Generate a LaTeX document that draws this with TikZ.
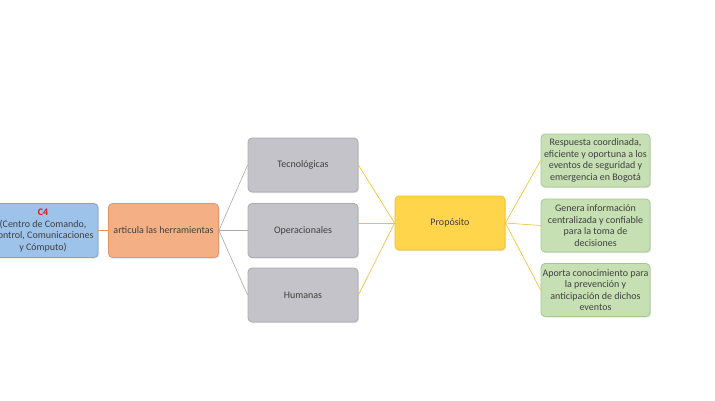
\documentclass[tikz,border=0pt]{standalone}
\usepackage{fontspec}
\setmainfont{Carlito}
\usepackage{tikz}
\usetikzlibrary{shadows}
\definecolor{bluefill}{RGB}{157,195,235}
\definecolor{blueline}{RGB}{120,165,215}
\definecolor{orangefill}{RGB}{244,176,132}
\definecolor{orangeline}{RGB}{225,150,105}
\definecolor{grayfill}{RGB}{196,195,202}
\definecolor{grayline}{RGB}{170,170,178}
\definecolor{yellowfill}{RGB}{255,214,75}
\definecolor{yellowline}{RGB}{240,192,40}
\definecolor{greenfill}{RGB}{198,224,180}
\definecolor{greenline}{RGB}{165,200,145}
\definecolor{textgray}{RGB}{64,64,64}
\definecolor{ctitle}{RGB}{230,20,20}
\newcommand{\boxfont}{\fontsize{10}{11.5}\selectfont}
\tikzset{
	box/.style 2 args={rectangle,rounded corners=4pt,draw=#2,fill=#1,line width=0.8pt,
		minimum width=110pt,minimum height=54pt,align=center,
		inner sep=1pt,text=textgray,font=\boxfont,
		drop shadow={opacity=0.2,shadow xshift=1pt,shadow yshift=-1.2pt}},
	link/.style={draw=#1,line width=0.6pt}
}
\begin{document}
\begin{tikzpicture}[x=1pt,y=-1pt]
\useasboundingbox[fill=white] (0,0) rectangle (715,400);
\node [box={bluefill}{blueline}] (c4) at (43,230.5) {{\color{ctitle}\bfseries C4}\\(Centro de Comando,\\Control, Comunicaciones\\y Cómputo)};
\node [box={orangefill}{orangeline}] (art) at (163.5,230.5) {articula las herramientas};
\node [box={grayfill}{grayline}] (tec) at (303,165) {Tecnológicas};
\node [box={grayfill}{grayline}] (ope) at (303,230.5) {Operacionales};
\node [box={grayfill}{grayline}] (hum) at (303,295) {Humanas};
\node [box={yellowfill}{yellowline}] (prop) at (450,223) {Propósito};
\node [box={greenfill}{greenline},minimum width=109pt,minimum height=53pt] (res) at (595.5,160.5) {Respuesta coordinada,\\eficiente y oportuna a los\\eventos de seguridad y\\emergencia en Bogotá};
\node [box={greenfill}{greenline},minimum width=109pt,minimum height=53pt] (gen) at (595.5,225.5) {Genera información\\centralizada y confiable\\para la toma de\\decisiones};
\node [box={greenfill}{greenline},minimum width=109pt,minimum height=53pt] (apo) at (595.5,290) {Aporta conocimiento para\\la prevención y\\anticipación de dichos\\eventos};
\draw [link=orangeline] (c4.east) -- (art.west);
\draw [link=grayline] (art.east) -- (tec.west);
\draw [link=grayline] (art.east) -- (ope.west);
\draw [link=grayline] (art.east) -- (hum.west);
\draw [link=yellowline] (tec.east) -- (prop.west);
\draw [link=orangefill] (ope.east |- prop.west) -- (prop.west);
\draw [link=yellowline] (hum.east) -- (prop.west);
\draw [link=yellowline] (prop.east) -- (res.west);
\draw [link=yellowline] (prop.east) -- (gen.west);
\draw [link=yellowline] (prop.east) -- (apo.west);
\end{tikzpicture}
\end{document}
